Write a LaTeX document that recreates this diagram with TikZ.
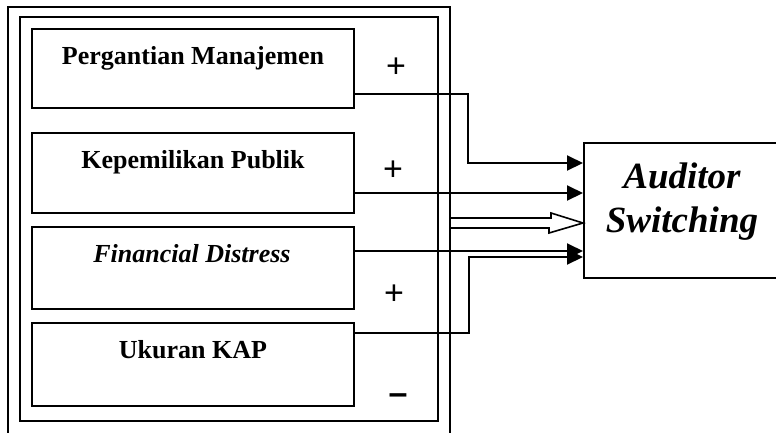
\documentclass[tikz,border=0pt]{standalone}
\usepackage{fontspec}
\setmainfont{Liberation Serif}
\newfontfamily\arialfont{Liberation Sans}
\usetikzlibrary{arrows.meta}
\begin{document}
\begin{tikzpicture}[x=1pt,y=-1pt,
 box/.style={draw, line width=2pt, rectangle, inner sep=0pt},
 lbl/.style={font=\fontsize{26}{30}\selectfont\bfseries, anchor=base},
 sign/.style={font=\arialfont\fontsize{34}{40}\selectfont, anchor=base},
 conn/.style={line width=2pt},
 arr/.style={conn, -{Triangle[length=16pt,width=15pt]}},
 big/.style={font=\fontsize{37}{44}\selectfont\bfseries\itshape, anchor=base},
]
\useasboundingbox (0,0) rectangle (776,432);
\clip (0,0) rectangle (776,432);
\node[box, minimum width=442.5pt, minimum height=440pt] (outer) at (228.75,227) {};
\node[box, minimum width=418pt, minimum height=404pt] (inner) at (229,219) {};
\node[box, minimum width=322pt, minimum height=79pt] (b1) at (193,68.5) {};
\node[box, minimum width=322pt, minimum height=80pt] (b2) at (193,173) {};
\node[box, minimum width=322pt, minimum height=82pt] (b3) at (193,268) {};
\node[box, minimum width=322pt, minimum height=83pt] (b4) at (193,364.5) {};
\node[box, minimum width=216pt, minimum height=135pt] (aud) at (692,210.5) {};

\node[lbl] (t1) at (193,64) {Pergantian Manajemen};
\node[lbl] (t2) at (193,168) {Kepemilikan Publik};
\node[lbl] (t3) at (192,262) {\itshape Financial Distress};
\node[lbl] (t4) at (193,358) {Ukuran KAP};

\node[sign] (s1) at (396,77) {+};
\node[sign] (s2) at (393,180) {+};
\node[sign] (s3) at (394,304) {+};
\node[sign, font=\arialfont\bfseries\fontsize{34}{40}\selectfont] (s4) at (398,404) {–};

\node[big] (a1) at (682,188) {Auditor};
\node[big] (a2) at (682,232) {Switching};

\coordinate (l1) at (0,94);
\coordinate (k1) at (468,163);
\coordinate (l2) at (0,193);
\coordinate (l3) at (0,251);
\coordinate (l4) at (0,333);
\coordinate (k4) at (469,257);
\draw[arr] (b1.east |- l1) -| (k1) -- (aud.west |- k1);
\draw[arr] (b2.east |- l2) -- (aud.west |- l2);
\draw[arr] (b3.east |- l3) -- (aud.west |- l3);
\draw[arr] (b4.east |- l4) -| (k4) -- (aud.west |- k4);

\coordinate (h1) at (0,218);
\coordinate (h2) at (0,228);
\coordinate (ht) at (0,223);
\draw[line width=1.6pt, line join=miter] (outer.east |- h1) -- ++(100,0) -- ++(0,-5) -- (aud.west |- ht) -- ++(-34,10) -- ++(0,-5) -- (outer.east |- h2);
\end{tikzpicture}
\end{document}
